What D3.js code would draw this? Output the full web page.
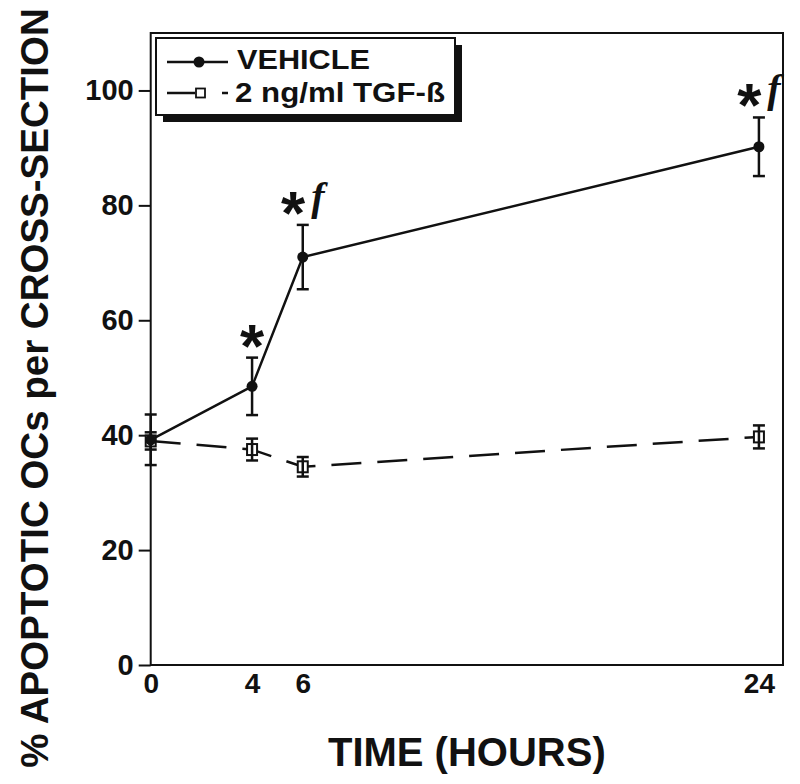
<!DOCTYPE html>
<html>
<head>
<meta charset="utf-8">
<script src="https://cdn.jsdelivr.net/npm/d3@7"></script>
<style>
  html, body { margin: 0; padding: 0; background: #fff; }
  svg { display: block; }
</style>
</head>
<body>
<svg id="chart" width="800" height="784"></svg>
<script>
// ---- data ----
const time = [0, 4, 6, 24];
const vehicle = [39.2, 48.5, 71, 90.2];
const vehicleErr = [4.4, 5.0, 5.6, 5.1];
const tgf = [39.0, 37.5, 34.5, 39.7];
const tgfErr = [1.5, 1.9, 1.7, 2.0];
const xTicks = [0, 4, 6, 24];
const yTicks = [0, 20, 40, 60, 80, 100];
const seriesNames = ["VEHICLE", "2 ng/ml TGF-ß"];
const annotTimes = [4, 6, 24];
const annotStars = ["*", "*", "*"];
const annotF = ["", "f", "f"];
const xTitle = "TIME (HOURS)";
const yTitle = "% APOPTOTIC OCs per CROSS-SECTION";

// ---- layout ----
const W = 800, H = 784;
const m = { left: 150.7, top: 33, right: 17, bottom: 119 };
const svg = d3.select("#chart");
const x = d3.scaleLinear().domain([0, 24.95]).range([m.left, W - m.right]);
const y = d3.scaleLinear().domain([0, 110]).range([H - m.bottom, m.top]);
const sans = "'Liberation Sans', Arial, Helvetica, sans-serif";

// frame
svg.append("rect")
  .attr("x", m.left).attr("y", m.top)
  .attr("width", W - m.right - m.left).attr("height", H - m.bottom - m.top)
  .attr("fill", "none").attr("stroke", "#111").attr("stroke-width", 2);

// y axis
const gy = svg.append("g").attr("transform", `translate(${m.left},0)`)
  .call(d3.axisLeft(y).tickValues(yTicks).tickSize(12).tickPadding(5));
gy.select(".domain").remove();
gy.selectAll(".tick line").attr("stroke", "#111").attr("stroke-width", 2);
gy.selectAll(".tick text").attr("font-family", sans).attr("font-weight", "bold")
  .attr("font-size", 29).attr("fill", "#111");

// x axis
const gx = svg.append("g").attr("transform", `translate(0,${H - m.bottom})`)
  .call(d3.axisBottom(x).tickValues(xTicks).tickSize(0).tickPadding(8));
gx.select(".domain").remove();
gx.selectAll(".tick text").attr("font-family", sans).attr("font-weight", "bold")
  .attr("font-size", 28).attr("fill", "#111");

// axis titles
svg.append("text")
  .attr("x", (m.left + W - m.right) / 2).attr("y", 766)
  .attr("text-anchor", "middle")
  .attr("font-family", sans).attr("font-weight", "bold").attr("font-size", 40)
  .attr("fill", "#111").text(xTitle);

svg.append("text")
  .attr("transform", "translate(48,388) rotate(-90)")
  .attr("text-anchor", "middle")
  .attr("font-family", sans).attr("font-weight", "bold").attr("font-size", 38.5)
  .attr("fill", "#111").text(yTitle);

// series helpers
const capW = 6;
function errorBars(g, vals, errs) {
  const eb = g.selectAll("g.eb").data(time.map((t, i) => ({ t, v: vals[i], e: errs[i] })))
    .join("g").attr("class", "eb")
    .attr("stroke", "#111").attr("stroke-width", 2.5);
  eb.append("line")
    .attr("x1", d => x(d.t)).attr("x2", d => x(d.t))
    .attr("y1", d => y(d.v - d.e)).attr("y2", d => y(d.v + d.e));
  eb.append("line")
    .attr("x1", d => x(d.t) - capW).attr("x2", d => x(d.t) + capW)
    .attr("y1", d => y(d.v + d.e)).attr("y2", d => y(d.v + d.e));
  eb.append("line")
    .attr("x1", d => x(d.t) - capW).attr("x2", d => x(d.t) + capW)
    .attr("y1", d => y(d.v - d.e)).attr("y2", d => y(d.v - d.e));
}
const lineGen = d3.line().x(d => x(d[0])).y(d => y(d[1]));

// TGF series (dashed, open squares)
const gT = svg.append("g");
gT.append("path")
  .datum(time.map((t, i) => [t, tgf[i]]))
  .attr("d", lineGen).attr("fill", "none")
  .attr("stroke", "#111").attr("stroke-width", 2.5)
  .attr("stroke-dasharray", "30,16");
gT.selectAll("rect.mk").data(time.map((t, i) => [t, tgf[i]]))
  .join("rect").attr("class", "mk")
  .attr("x", d => x(d[0]) - 5).attr("y", d => y(d[1]) - 5.5)
  .attr("width", 10).attr("height", 11)
  .attr("fill", "#fff").attr("stroke", "#111").attr("stroke-width", 2);
errorBars(gT, tgf, tgfErr);

// Vehicle series (solid, filled circles)
const gV = svg.append("g");
gV.append("path")
  .datum(time.map((t, i) => [t, vehicle[i]]))
  .attr("d", lineGen).attr("fill", "none")
  .attr("stroke", "#111").attr("stroke-width", 2.5);
errorBars(gV, vehicle, vehicleErr);
gV.selectAll("circle").data(time.map((t, i) => [t, vehicle[i]]))
  .join("circle")
  .attr("cx", d => x(d[0])).attr("cy", d => y(d[1])).attr("r", 5.5)
  .attr("fill", "#111");

// significance annotations
annotTimes.forEach((t, k) => {
  const i = time.indexOf(t);
  const top = y(vehicle[i] + vehicleErr[i]);
  const txt = svg.append("text")
    .attr("x", x(t)).attr("y", top + 9)
    .attr("text-anchor", "middle").attr("fill", "#111");
  txt.append("tspan").attr("font-family", sans).attr("font-weight", "bold")
    .attr("font-size", 62).text(annotStars[k]);
  if (annotF[k]) {
    txt.append("tspan").attr("font-family", "'Liberation Serif', 'Times New Roman', serif")
      .attr("font-weight", "bold").attr("font-style", "italic")
      .attr("font-size", 40).attr("dx", 6).attr("dy", -24).text(annotF[k]);
  }
});

// legend
const lg = svg.append("g").attr("transform", "translate(156,38)");
lg.append("rect").attr("x", 7).attr("y", 7).attr("width", 299).attr("height", 77).attr("fill", "#111");
lg.append("rect").attr("x", 0).attr("y", 0).attr("width", 299).attr("height", 77)
  .attr("fill", "#fff").attr("stroke", "#111").attr("stroke-width", 2);
// item 1
lg.append("line").attr("x1", 11).attr("x2", 72).attr("y1", 24).attr("y2", 24)
  .attr("stroke", "#111").attr("stroke-width", 2.5);
lg.append("circle").attr("cx", 43).attr("cy", 24).attr("r", 5.5).attr("fill", "#111");
lg.append("text").attr("x", 81).attr("y", 31)
  .attr("font-family", sans).attr("font-weight", "bold").attr("font-size", 27)
  .attr("textLength", 133).attr("lengthAdjust", "spacingAndGlyphs")
  .attr("fill", "#111").text(seriesNames[0]);
// item 2
lg.append("line").attr("x1", 11).attr("x2", 72).attr("y1", 55).attr("y2", 55)
  .attr("stroke", "#111").attr("stroke-width", 2.5)
  .attr("stroke-dasharray", "28,27,6");
lg.append("rect").attr("x", 40).attr("y", 50.5).attr("width", 9).attr("height", 9)
  .attr("fill", "#fff").attr("stroke", "#111").attr("stroke-width", 1.8);
lg.append("text").attr("x", 79).attr("y", 64)
  .attr("font-family", sans).attr("font-weight", "bold").attr("font-size", 27)
  .attr("textLength", 210).attr("lengthAdjust", "spacingAndGlyphs")
  .attr("fill", "#111").text(seriesNames[1]);
</script>
</body>
</html>
